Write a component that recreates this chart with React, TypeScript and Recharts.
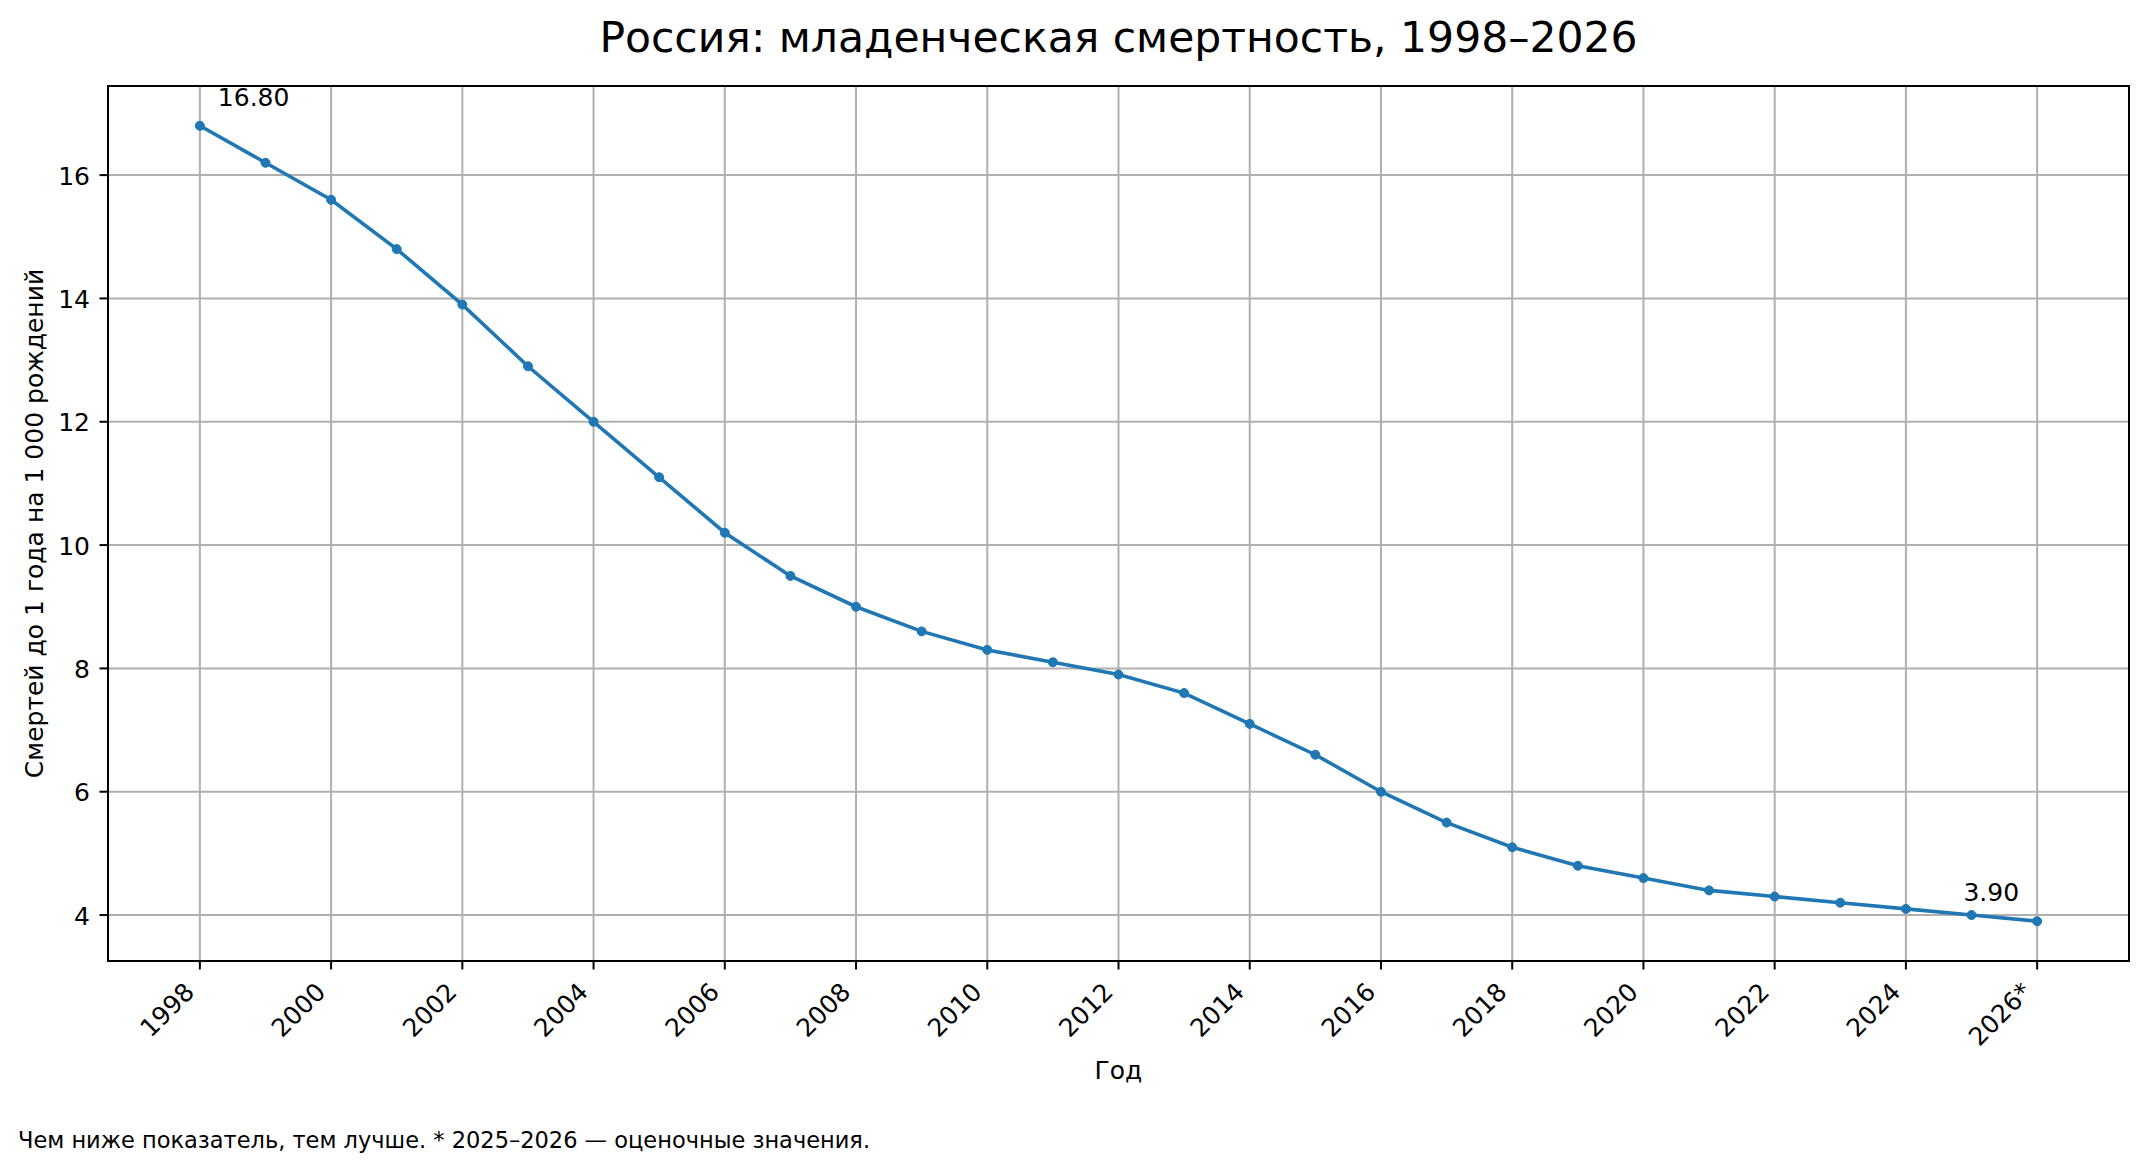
import React from 'react';
import { LineChart, Line, XAxis, YAxis, CartesianGrid, ReferenceArea, LabelList } from 'recharts';

const years = [1998, 1999, 2000, 2001, 2002, 2003, 2004, 2005, 2006, 2007, 2008, 2009, 2010, 2011, 2012, 2013, 2014, 2015, 2016, 2017, 2018, 2019, 2020, 2021, 2022, 2023, 2024, 2025, 2026];
const infantMortality = [16.8, 16.2, 15.6, 14.8, 13.9, 12.9, 12.0, 11.1, 10.2, 9.5, 9.0, 8.6, 8.3, 8.1, 7.9, 7.6, 7.1, 6.6, 6.0, 5.5, 5.1, 4.8, 4.6, 4.4, 4.3, 4.2, 4.1, 4.0, 3.9];
const xTicks = [1998, 2000, 2002, 2004, 2006, 2008, 2010, 2012, 2014, 2016, 2018, 2020, 2022, 2024, 2026];
const xTickLabels = ['1998', '2000', '2002', '2004', '2006', '2008', '2010', '2012', '2014', '2016', '2018', '2020', '2022', '2024', '2026*'];
const yTicks = [4, 6, 8, 10, 12, 14, 16];

const titleText = 'Россия: младенческая смертность, 1998–2026';
const xLabelText = 'Год';
const yLabelText = 'Смертей до 1 года на 1 000 рождений';
const footerText = 'Чем ниже показатель, тем лучше. * 2025–2026 — оценочные значения.';

const data = years.map((year, i) => ({ year, value: infantMortality[i] }));

const xMin = years[0] - (years[years.length - 1] - years[0]) * 0.05;
const xMax = years[years.length - 1] + (years[years.length - 1] - years[0]) * 0.05;
const vMin = Math.min(...infantMortality);
const vMax = Math.max(...infantMortality);
const yMin = vMin - (vMax - vMin) * 0.05;
const yMax = vMax + (vMax - vMin) * 0.05;

const FONT = 'DejaVu Sans';
const W = 2147;
const H = 1171;
const FS = 25;

const XTick = (props: any) => {
  const { x, y, payload } = props;
  const idx = xTicks.indexOf(payload.value);
  const label = idx >= 0 ? xTickLabels[idx] : String(payload.value);
  const ax = x - 4;
  const ay = y + 24;
  return (
    <text x={ax} y={ay} textAnchor="end" fontSize={FS} fontFamily={FONT} fill="#000" transform={`rotate(-45, ${ax}, ${ay})`}>
      {label}
    </text>
  );
};

const YTick = (props: any) => {
  const { x, y, payload } = props;
  return (
    <text x={x} y={y + 9.5} textAnchor="end" fontSize={FS} fontFamily={FONT} fill="#000">
      {String(payload.value)}
    </text>
  );
};

const PointLabel = (props: any) => {
  const px = props.x ?? props.viewBox?.x;
  const py = props.y ?? props.viewBox?.y;
  const { index, value } = props;
  const isFirst = index === 0 || (index === undefined && value === infantMortality[0]);
  const isLast = index === data.length - 1 || (index === undefined && value === infantMortality[infantMortality.length - 1]);
  if (isFirst) {
    return (
      <text x={px + 18} y={py - 20} textAnchor="start" fontSize={FS} fontFamily={FONT} fill="#000">
        {Number(value).toFixed(2)}
      </text>
    );
  }
  if (isLast) {
    return (
      <text x={px - 18} y={py - 20} textAnchor="end" fontSize={FS} fontFamily={FONT} fill="#000">
        {Number(value).toFixed(2)}
      </text>
    );
  }
  return null;
};

export default function App() {
  return (
    <div style={{ position: 'absolute', left: 0, top: 0, width: W, height: H, background: '#fff', fontFamily: FONT }}>
      <LineChart width={W} height={H} data={data} margin={{ top: 86, right: 18, bottom: 0, left: 0 }}>
        <CartesianGrid stroke="#b0b0b0" strokeWidth={2} />
        <XAxis
          dataKey="year"
          type="number"
          domain={[xMin, xMax]}
          ticks={xTicks}
          interval={0}
          height={210}
          tickSize={8.5}
          tickMargin={0}
          axisLine={{ stroke: '#000', strokeWidth: 2 }}
          tickLine={{ stroke: '#000', strokeWidth: 2 }}
          tick={<XTick />}
          allowDataOverflow
        />
        <YAxis
          type="number"
          domain={[yMin, yMax]}
          ticks={yTicks}
          interval={0}
          width={108}
          tickSize={8.5}
          tickMargin={9.5}
          axisLine={{ stroke: '#000', strokeWidth: 2 }}
          tickLine={{ stroke: '#000', strokeWidth: 2 }}
          tick={<YTick />}
          allowDataOverflow
        />
        <Line
          type="linear"
          dataKey="value"
          stroke="#1f77b4"
          strokeWidth={3.6}
          dot={{ r: 4.5, fill: '#1f77b4', stroke: '#1f77b4', strokeWidth: 1 }}
          activeDot={false}
          isAnimationActive={false}
        >
          <LabelList dataKey="value" content={<PointLabel />} />
        </Line>
        <ReferenceArea x1={xMin} x2={xMax} y1={yMin} y2={yMax} fill="none" fillOpacity={0} stroke="#000" strokeWidth={2} ifOverflow="visible" />
      </LineChart>
      <svg width={W} height={H} style={{ position: 'absolute', left: 0, top: 0, pointerEvents: 'none' }}>
        <text x={1118.5} y={52} textAnchor="middle" fontSize={42.5} fontFamily={FONT} fill="#000">{titleText}</text>
        <text x={1118.5} y={1079} textAnchor="middle" fontSize={FS} fontFamily={FONT} fill="#000">{xLabelText}</text>
        <text x={42.5} y={523.5} textAnchor="middle" fontSize={FS} fontFamily={FONT} fill="#000" transform="rotate(-90, 42.5, 523.5)">{yLabelText}</text>
        <text x={18} y={1148} textAnchor="start" fontSize={22.5} fontFamily={FONT} fill="#000">{footerText}</text>
      </svg>
    </div>
  );
}
